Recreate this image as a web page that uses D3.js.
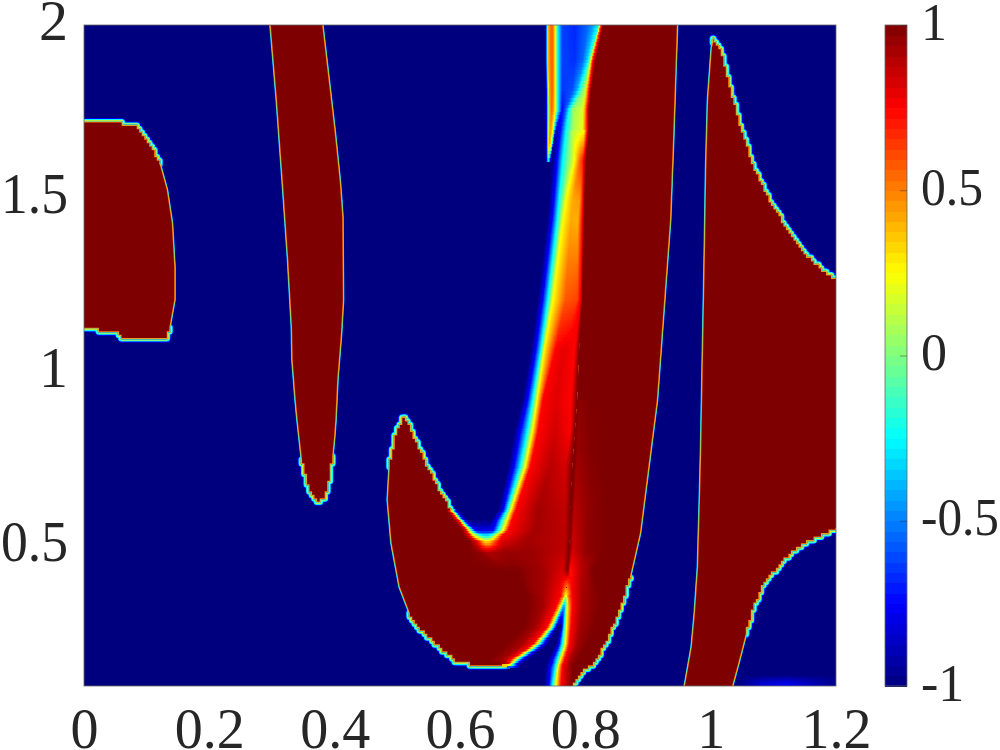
<!DOCTYPE html>
<html>
<head>
<meta charset="utf-8">
<script src="https://cdn.jsdelivr.net/npm/d3@7/dist/d3.min.js"></script>
<style>html,body{margin:0;padding:0;background:#fff}svg{display:block}</style>
</head>
<body>
<svg id="chart" width="1000" height="750"></svg>
<script>
// ---- tick labels ----
const xTicks = [0, 0.2, 0.4, 0.6, 0.8, 1, 1.2];
const yTicks = [0.5, 1, 1.5, 2];
const cTicks = [-1, -0.5, 0, 0.5, 1];

// ---- regions where the field saturates at +1: outlines as [x, y] ----
const blobLeft = [[0,1.724],[.005,1.721],[.054,1.724],[.062,1.713],[.081,1.707],[.093,1.684],[.105,1.655],[.121,1.598],[.132,1.526],[.140,1.431],[.144,1.305],[.144,1.210],[.137,1.132],[.129,1.100],[.061,1.097],[.056,1.118],[.026,1.118],[.018,1.132],[0,1.132]];
const stripMid = [[.298,2],[.308,1.784],[.318,1.534],[.326,1.325],[.332,1.132],[.333,1.037],[.338,.922],[.341,.865],[.349,.750],[.359,.672],[.365,.649],[.373,.629],[.385,.649],[.389,.684],[.396,.759],[.399,.816],[.401,.865],[.404,.980],[.410,1.115],[.413,1.21],[.412,1.45],[.408,1.55],[.400,1.690],[.394,1.784],[.380,2]];
const bodyMain = [[.511,.873],[.499,.827],[.488,.730],[.485,.635],[.491,.511],[.504,.385],[.520,.310],[.533,.270],[.557,.232],[.579,.195],[.597,.169],[.616,.166],[.624,.155],[.672,.155],[.700,.183],[.732,.232],[.755,.290],[.764,.327],[.769,.362],[.769,.318],[.769,.232],[.760,.160],[.748,.100],[.779,.100],[.791,.137],[.812,.166],[.835,.232],[.855,.327],[.871,.413],[.887,.540],[.914,.922],[.935,1.439],[.940,1.678],[.946,2],[.825,2],[.815,1.899],[.806,1.784],[.801,1.698],[.798,1.583],[.795,1.439],[.793,1.210],[.790,1.066],[.787,.922],[.783,.827],[.779,.730],[.776,.635],[.774,.497],[.664,.497],[.642,.505],[.632,.517],[.611,.543],[.584,.606],[.552,.712],[.531,.793],[.511,.873]];
const blobRight = [[1.005,1.957],[1.002,1.934],[.996,1.784],[.993,1.583],[.991,1.353],[.988,1.066],[.985,.778],[.983,.635],[.980,.442],[.975,.310],[.970,.212],[.959,.100],[1.034,.100],[1.044,.166],[1.055,.252],[1.068,.327],[1.083,.396],[1.106,.442],[1.131,.491],[1.163,.525],[1.198,.554],[1.2,.554],[1.2,1.264],[1.186,1.281],[1.154,1.333],[1.122,1.411],[1.095,1.488],[1.068,1.592],[1.047,1.707],[1.028,1.834],[1.015,1.928],[1.005,1.957]];

// index ranges of outline stretches that show the coarse grid of the data
const blobLeftCoarse = [[0,7],[12,18]];
const stripMidCoarse = [[8,14]];
const bodyMainCoarse = [[0,2],[6,13],[23,28],[50,54]];
const blobRightCoarse = [[14,20],[22,31]];

// ---- graded areas: rows of [y, x stops, field value at each stop] ----
const topRows = [
 [2,[.736,.739,.741,.745,.748,.752,.756,.763,.783,.803,.812,.821,.824,.828],[-1,-.25,.4,.55,.55,.25,-.25,-.62,-.68,-.55,-.45,-.25,.5,1]],
 [1.899,[.736,.739,.741,.745,.748,.752,.756,.763,.783,.796,.804,.807,.812,.817],[-1,-.25,.4,.55,.55,.25,-.25,-.62,-.66,-.55,-.3,0,.75,1]],
 [1.813,[.737,.740,.742,.746,.748,.752,.756,.763,.779,.787,.793,.799,.806,.809],[-1,-.25,.4,.55,.55,.25,-.25,-.65,-.6,-.4,-.1,.1,.75,1]],
 [1.756,[.737,.740,.743,.746,.748,.752,.756,.763,.769,.774,.780,.796,.803,.806],[-1,-.25,.4,.55,.5,.25,-.25,-.75,-.55,-.25,.05,.18,.75,1]],
 [1.698,[.737,.740,.742,.744,.746,.748,.750,.753,.760,.769,.783,.795,.803,.806],[-1,-.25,.35,.45,.4,.25,-.25,-.85,-.75,-.25,.12,.2,.75,1]]
];
const tailRows = [
 [1.698,[.737,.740,.742,.744,.746,.748,.750,.753],[-1,-.25,.35,.45,.4,.25,-.25,-.85]],
 [1.655,[.737,.740,.741,.742,.744,.745,.747,.749],[-1,-.25,.3,.4,.35,.25,-.25,-1]],
 [1.612,[.737,.739,.740,.7405,.741,.742,.744,.745],[-1,-.6,-.3,-.15,-.25,-.4,-.7,-1]]
];
const bandRows = [
 [1.698,[.753,.760,.769,.779,.791,.798,.803,.806],[-.95,-.75,-.25,.1,.18,.25,.75,1]],
 [1.612,[.747,.755,.764,.783,.791,.796,.799,.801],[-1,-.75,-.25,.25,.55,.7,.85,1]],
 [1.497,[.742,.750,.758,.769,.780,.791,.796,.799],[-1,-.75,-.25,.25,.42,.45,.75,1]],
 [1.439,[.739,.747,.755,.764,.777,.788,.795,.798],[-1,-.75,-.25,.25,.42,.4,.75,1]],
 [1.210,[.724,.732,.740,.748,.768,.787,.793,.795],[-1,-.75,-.25,.25,.58,.62,.8,1]],
 [1.066,[.713,.721,.729,.734,.752,.766,.783,.790],[-1,-.75,-.25,.25,.75,.8,.75,1]],
 [.922,[.699,.708,.716,.723,.732,.753,.777,.787],[-1,-.75,-.25,.25,.75,.81,.75,1]],
 [.827,[.686,.696,.707,.715,.724,.752,.776,.783],[-1,-.75,-.25,.25,.75,.84,.76,1]],
 [.730,[.677,.686,.696,.704,.712,.744,.768,.779],[-1,-.75,-.25,.25,.75,.89,.83,1]],
 [.606,[.661,.669,.675,.681,.689,.724,.768,.776],[-1,-.75,-.25,.25,.75,.93,.87,1]]
];
const hookRows = [
 [.606,[.578,.582,.586,.589,.592,.597,.661,.669,.675,.681,.689,.724,.768,.776],[1,.75,.25,-.25,-.75,-1,-1,-.75,-.25,.25,.75,.93,.87,1]],
 [.577,[.590,.597,.600,.603,.606,.613,.649,.659,.667,.675,.683,.724,.768,.776],[1,.75,.25,-.25,-.75,-1,-1,-.75,-.25,.25,.75,.93,.87,1]],
 [.548,[.603,.610,.614,.619,.624,.632,.645,.653,.661,.669,.677,.720,.768,.776],[1,.75,.25,-.25,-.75,-.8,-.8,-.75,-.25,.25,.75,.93,.88,1]],
 [.531,[.606,.616,.622,.629,.634,.638,.645,.649,.653,.657,.667,.712,.768,.776],[1,.75,.25,0,-.15,-.25,-.25,-.15,0,.25,.75,.93,.88,1]],
 [.517,[.616,.626,.632,.635,.638,.640,.645,.648,.651,.656,.664,.704,.768,.774],[1,.8,.6,.45,.35,.3,.3,.35,.45,.6,.8,.93,.88,1]],
 [.485,[.616,.629,.634,.637,.640,.642,.646,.649,.653,.659,.672,.712,.766,.774],[1,.97,.95,.93,.92,.9,.9,.91,.92,.93,.95,.95,.87,1]],
 [.433,[.616,.640,.660,.665,.670,.675,.680,.685,.690,.695,.700,.733,.764,.772],[1,1,1,1,1,1,1,1,1,1,.98,.93,.82,1]],
 [.362,[.640,.655,.670,.680,.690,.695,.700,.705,.707,.715,.720,.732,.761,.769],[1,1,1,1,1,1,1,1,1,.97,.95,.93,.75,.25]]
];
const rimRows = [
 [.922,[.787,.791,.807,.823],[1,.97,1,1]],
 [.778,[.783,.788,.807,.823],[1,.95,.99,1]],
 [.635,[.779,.783,.807,.831],[1,.9,.97,1]],
 [.491,[.774,.780,.803,.831],[1,.84,.97,1]],
 [.433,[.772,.776,.791,.812],[1,.72,.87,1]],
 [.362,[.769,.779,.796,.823],[.25,.77,.93,1]]
];
const notchRows = [
 [.362,[.707,.732,.761,.766,.768,.769,.7695,.770,.771,.772,.776,.780,.796,.823],[1,.93,.75,.5,.3,.25,.25,.25,.3,.5,.7,.77,.93,1]],
 [.327,[.707,.732,.753,.760,.763,.764,.765,.766,.767,.768,.771,.779,.795,.823],[1,.93,.75,.25,-.25,-.4,-.45,-.45,-.4,-.25,.25,.75,.93,1]],
 [.270,[.704,.720,.739,.745,.749,.753,.756,.760,.763,.766,.770,.777,.791,.815],[1,.93,.75,.25,-.25,-.75,-1,-1,-.75,-.25,.25,.75,.93,1]],
 [.218,[.672,.696,.715,.721,.726,.732,.740,.753,.758,.763,.768,.774,.787,.801],[1,.93,.75,.25,-.25,-.75,-1,-1,-.75,-.25,.25,.75,.93,1]],
 [.175,[.648,.669,.681,.688,.693,.699,.708,.740,.748,.755,.760,.767,.777,.788],[1,.93,.75,.25,-.25,-.75,-1,-1,-.75,-.25,.25,.75,.93,1]],
 [.163,[.662,.672,.677,.681,.685,.689,.699,.737,.747,.753,.758,.764,.774,.782],[1,.93,.75,.25,-.25,-.75,-1,-1,-.75,-.25,.25,.75,.93,1]],
 [.152,[.679,.682,.686,.689,.693,.696,.699,.736,.744,.752,.756,.763,.772,.780],[-1,-1,-1,-1,-1,-1,-1,-1,-.75,-.25,.25,.75,.9,1]],
 [.100,[.696,.699,.702,.705,.708,.712,.720,.734,.742,.747,.753,.761,.771,.779],[-1,-1,-1,-1,-1,-1,-1,-1,-.75,-.25,.25,.75,.9,1]]
];
const glowRows = [
 [.132,[1.045,1.08,1.12,1.16,1.2],[-1,-1,-1,-1,-1]],
 [.100,[1.04,1.08,1.12,1.16,1.2],[-1,-.8,-.72,-.85,-.96]]
];

// ---- layout, scales ----
const svg = d3.select("#chart");
const plot = {l:84, r:836, t:25, b:686};
const bar = {l:885, r:907};
const x = d3.scaleLinear().domain([0,1.2]).range([plot.l,plot.r]);
const y = d3.scaleLinear().domain([0.1,2]).range([plot.b,plot.t]);
const c = d3.scaleLinear().domain([-1,1]).range([plot.b,plot.t]);
const jet = d3.scaleLinear()
  .domain([-1,-.75,-.25,.25,.75,1])
  .range(["#00007f","#0000ff","#00ffff","#ffff00","#ff0000","#7f0000"])
  .clamp(true);

const defs = svg.append("defs");
defs.append("clipPath").attr("id","plotClip").append("rect")
  .attr("x",plot.l).attr("y",plot.t).attr("width",plot.r-plot.l).attr("height",plot.b-plot.t);
defs.append("filter").attr("id","soft")
  .attr("filterUnits","userSpaceOnUse").attr("x",plot.l-10).attr("y",plot.t-10)
  .attr("width",plot.r-plot.l+20).attr("height",plot.b-plot.t+20)
  .append("feGaussianBlur").attr("stdDeviation",0.6);

const clipGroup = svg.append("g").attr("clip-path","url(#plotClip)");
clipGroup.append("rect").attr("x",plot.l).attr("y",plot.t)
  .attr("width",plot.r-plot.l).attr("height",plot.b-plot.t).attr("fill",jet(-1));
const g = clipGroup.append("g").attr("filter","url(#soft)");
g.append("rect").attr("x",plot.l).attr("y",plot.t)
  .attr("width",plot.r-plot.l).attr("height",plot.b-plot.t).attr("fill",jet(-1));

// ---- outlines ----
const gridX = 0.004, gridY = 0.01;
function stairSegment(a,b){
  const n = Math.max(1,Math.ceil(Math.max(Math.abs(b[0]-a[0]),Math.abs(b[1]-a[1]))/0.001));
  const out = [];
  let prev = null;
  for(let i=0;i<=n;i++){
    const px = a[0]+(b[0]-a[0])*i/n, py = a[1]+(b[1]-a[1])*i/n;
    const p = [Math.round(px/gridX)*gridX, Math.round(py/gridY)*gridY];
    if(prev && prev[0]!==p[0] && prev[1]!==p[1]) out.push([p[0],prev[1]]);
    if(!prev || prev[0]!==p[0] || prev[1]!==p[1]) out.push(p);
    prev = p;
  }
  return out;
}
function expand(pts,ranges){
  const whole = [], coarse = [];
  for(let i=0;i<pts.length-1;i++){
    const r = ranges.find(q=>i>=q[0] && i<q[1]);
    if(r){
      const s = stairSegment(pts[i],pts[i+1]);
      whole.push(...s);
      if(i===r[0]) coarse.push([]);
      coarse[coarse.length-1].push(...s);
    } else {
      whole.push(pts[i]);
    }
  }
  whole.push(pts[pts.length-1]);
  return {whole,coarse};
}
const line = d3.line().x(d=>x(d[0])).y(d=>y(d[1]));
const regions = [
  expand(blobLeft,blobLeftCoarse),
  expand(stripMid,stripMidCoarse),
  expand(bodyMain,bodyMainCoarse),
  expand(blobRight,blobRightCoarse)
];
const softHalo = [[9,jet(-.75)],[7,jet(-.25)],[4.6,jet(.25)],[2.6,jet(.75)]];
const thinHalo = [[3.2,jet(-.4)],[2.3,jet(0)],[1.5,jet(.5)]];
softHalo.forEach(([w,col])=>{
  g.append("g").selectAll("path").data(regions.flatMap(r=>r.coarse)).join("path")
    .attr("d",line).attr("fill","none").attr("stroke",col).attr("stroke-width",w)
    .attr("stroke-linejoin","round").attr("stroke-linecap","round");
});
thinHalo.forEach(([w,col])=>{
  g.append("g").selectAll("path").data(regions.map(r=>r.whole)).join("path")
    .attr("d",line).attr("fill","none").attr("stroke",col).attr("stroke-width",w)
    .attr("stroke-linejoin","round");
});
g.append("g").selectAll("path").data(regions.map(r=>r.whole)).join("path")
  .attr("d",d=>line(d)+"Z").attr("fill",jet(1)).attr("stroke","none");

// ---- graded areas, shaded between rows on the data grid ----
let gradId = 0;
function shade(rows,step){
  const layer = g.append("g").attr("shape-rendering","crispEdges");
  const yTop = rows[0][0], yBot = rows[rows.length-1][0];
  const n = Math.round((yTop-yBot)/step);
  for(let k=0;k<n;k++){
    const yy = yTop-(k+0.5)*step;
    let i = 0;
    while(i<rows.length-2 && yy<rows[i+1][0]) i++;
    const A = rows[i], B = rows[i+1];
    const t = (A[0]-yy)/(A[0]-B[0]);
    const xs = A[1].map((v,j)=>v+(B[1][j]-v)*t);
    const vs = A[2].map((v,j)=>v+(B[2][j]-v)*t);
    const x0 = x(xs[0]), x1 = x(xs[xs.length-1]);
    const id = "g"+(gradId++);
    const lg = defs.append("linearGradient").attr("id",id)
      .attr("gradientUnits","userSpaceOnUse").attr("x1",x0).attr("x2",x1).attr("y1",0).attr("y2",0);
    xs.forEach((xv,j)=>{
      if(j===xs.length-1){
        lg.append("stop").attr("offset",1).attr("stop-color",jet(vs[j]));
        return;
      }
      for(let s=0;s<3;s++){
        const f = s/3;
        const xx = x(xv+(xs[j+1]-xv)*f);
        lg.append("stop").attr("offset",(xx-x0)/Math.max(1e-6,x1-x0))
          .attr("stop-color",jet(vs[j]+(vs[j+1]-vs[j])*f));
      }
    });
    layer.append("rect")
      .attr("x",x0).attr("width",x1-x0)
      .attr("y",y(yTop-k*step)).attr("height",y(yTop-(k+1)*step)-y(yTop-k*step)+0.6)
      .attr("fill",`url(#${id})`);
  }
}
shade(bandRows,0.005);
shade(topRows,0.01);
shade(tailRows,0.01);
shade(hookRows,0.005);
shade(rimRows,0.005);
shade(notchRows,0.005);
shade(glowRows,0.005);

// ---- frame ----
svg.append("rect").attr("x",plot.l).attr("y",plot.t)
  .attr("width",plot.r-plot.l).attr("height",plot.b-plot.t)
  .attr("fill","none").attr("stroke","#666").attr("stroke-width",0.8);

// ---- axes ----
const fmt = d=>String(d);
const styleAxis = (sel,size)=>{
  sel.select(".domain").remove();
  sel.selectAll("text").attr("font-family","'Liberation Serif',serif")
    .attr("font-size",size).attr("fill","#262626");
};
const gx = svg.append("g").attr("transform",`translate(0,${plot.b})`)
  .call(d3.axisBottom(x).tickValues(xTicks).tickFormat(fmt).tickSize(0));
styleAxis(gx,56);
gx.selectAll("line").remove();
gx.selectAll("text").attr("dy",0).attr("y",62);

const gy = svg.append("g").attr("transform",`translate(${plot.l},0)`)
  .call(d3.axisLeft(y).tickValues(yTicks).tickFormat(fmt).tickSize(0));
styleAxis(gy,58);
gy.selectAll("line").remove();
gy.selectAll("text").attr("dy",0).attr("x",-16).attr("y",14)
  .filter(d=>String(d).length>1).attr("textLength",67).attr("lengthAdjust","spacingAndGlyphs");

// ---- colour bar ----
const levels = d3.range(64).map(i=>-1+(i+0.5)*2/64);
svg.append("g").attr("shape-rendering","crispEdges").selectAll("rect").data(levels).join("rect")
  .attr("x",bar.l).attr("width",bar.r-bar.l)
  .attr("y",d=>c(d+1/64)).attr("height",d=>c(d-1/64)-c(d+1/64)+0.6)
  .attr("fill",d=>jet(d));
svg.append("rect").attr("x",bar.l).attr("y",plot.t)
  .attr("width",bar.r-bar.l).attr("height",plot.b-plot.t)
  .attr("fill","none").attr("stroke","#666").attr("stroke-width",0.8);
const gc = svg.append("g").attr("transform",`translate(${bar.r},0)`)
  .call(d3.axisRight(c).tickValues(cTicks).tickFormat(fmt).tickSize(0));
styleAxis(gc,52);
gc.selectAll("line").attr("x1",-7).attr("x2",0).attr("stroke","#262626").attr("stroke-opacity",0.55).attr("stroke-width",0.8);
gc.selectAll("text").attr("dy",0).attr("x",14).attr("y",14).attr("text-anchor","start");
gc.selectAll("text").filter(d=>d===0.5).attr("textLength",62).attr("lengthAdjust","spacingAndGlyphs");
gc.selectAll("text").filter(d=>d===-0.5).attr("textLength",78).attr("lengthAdjust","spacingAndGlyphs");
</script>
</body>
</html>
